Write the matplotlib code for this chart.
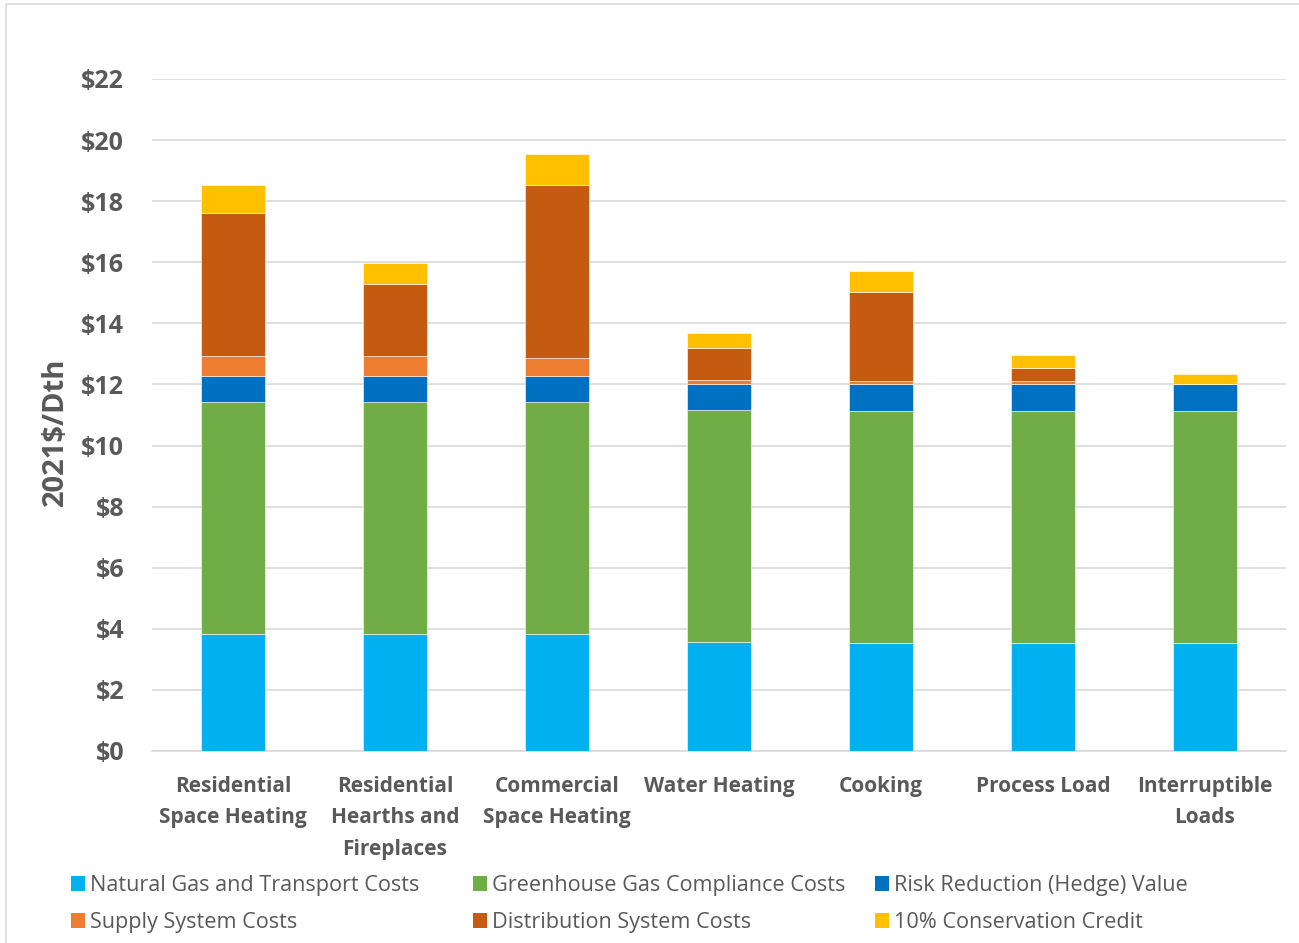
import matplotlib
matplotlib.use("Agg")
import matplotlib.pyplot as plt
from matplotlib.patches import Patch, Rectangle

categories = [
    "Residential\nSpace Heating",
    "Residential\nHearths and\nFireplaces",
    "Commercial\nSpace Heating",
    "Water Heating",
    "Cooking",
    "Process Load",
    "Interruptible\nLoads",
]

natural_gas = [3.83, 3.83, 3.83, 3.58, 3.55, 3.55, 3.55]
ghg_compliance = [7.60, 7.60, 7.60, 7.59, 7.59, 7.59, 7.59]
hedge_value = [0.85, 0.85, 0.85, 0.86, 0.86, 0.86, 0.86]
supply_system = [0.65, 0.65, 0.59, 0.12, 0.12, 0.12, 0.00]
distribution_system = [4.69, 2.36, 5.66, 1.05, 2.92, 0.43, 0.00]
conservation_credit = [0.92, 0.69, 1.02, 0.48, 0.66, 0.41, 0.35]

series_names = [
    "Natural Gas and Transport Costs",
    "Greenhouse Gas Compliance Costs",
    "Risk Reduction (Hedge) Value",
    "Supply System Costs",
    "Distribution System Costs",
    "10% Conservation Credit",
]
series_values = [natural_gas, ghg_compliance, hedge_value,
                 supply_system, distribution_system, conservation_credit]
colors = ["#00B0F0", "#70AD47", "#0070C0", "#ED7D31", "#C55A11", "#FFC000"]

yticks = list(range(0, 23, 2))
ytick_labels = [f"${v}" for v in yticks]

W, H = 1299, 943
fig = plt.figure(figsize=(W / 100, H / 100), dpi=100)
fig.patch.set_facecolor("white")

# light outer frame
fig.add_artist(Rectangle((6 / W, -0.01), (W - 5) / W, (H - 4) / H + 0.01,
                         transform=fig.transFigure, fill=False,
                         edgecolor="#d9d9d9", linewidth=1.2))

ax = fig.add_axes([152 / W, (H - 751) / H, (1286 - 152) / W, (751 - 79) / H])

text_gray = "#595959"
font = "Open Sans"

x = list(range(len(categories)))
bottoms = [0.0] * len(categories)
for name, vals, col in zip(series_names, series_values, colors):
    ax.bar(x, vals, width=0.4, bottom=bottoms, color=col, label=name,
           edgecolor="white", linewidth=0.4, zorder=3)
    bottoms = [b + v for b, v in zip(bottoms, vals)]

ax.set_xlim(-0.5, len(categories) - 0.5)
ax.set_ylim(0, 22)
ax.set_yticks(yticks)
ax.set_yticklabels(ytick_labels, fontfamily=font, fontweight="bold",
                   fontsize=18, color=text_gray)
ax.set_xticks(x)
ax.set_xticklabels(categories, fontfamily=font, fontweight="bold",
                   fontsize=15, color=text_gray, linespacing=1.65)
ax.tick_params(axis="y", length=0, pad=20)
ax.tick_params(axis="x", length=0, pad=18)

ax.grid(axis="y", color="#d9d9d9", linewidth=1.2, zorder=0)
for s in ["top", "right", "left"]:
    ax.spines[s].set_visible(False)
ax.spines["bottom"].set_color("#d9d9d9")
ax.spines["bottom"].set_linewidth(1.2)

fig.text(55 / W, 1 - 432 / H, "2021$/Dth", rotation=90, ha="center",
         va="center", fontfamily=font, fontweight="bold", fontsize=21,
         color=text_gray)

# legend laid out in three columns, two rows
col_x = [71, 473, 875]
for c in range(3):
    idx = [c, c + 3]
    handles = [Patch(facecolor=colors[i], edgecolor="none") for i in idx]
    labels = [series_names[i] for i in idx]
    leg = fig.legend(handles, labels, loc="upper left",
                     bbox_to_anchor=(col_x[c] / W, 1 - 875 / H),
                     frameon=False, ncol=1, handlelength=0.65,
                     handleheight=0.65, handletextpad=0.25,
                     labelspacing=0.75, borderaxespad=0, borderpad=0,
                     prop={"family": font, "size": 15.6})
    for t in leg.get_texts():
        t.set_color(text_gray)

fig.savefig("out.png", dpi=100, facecolor="white")
